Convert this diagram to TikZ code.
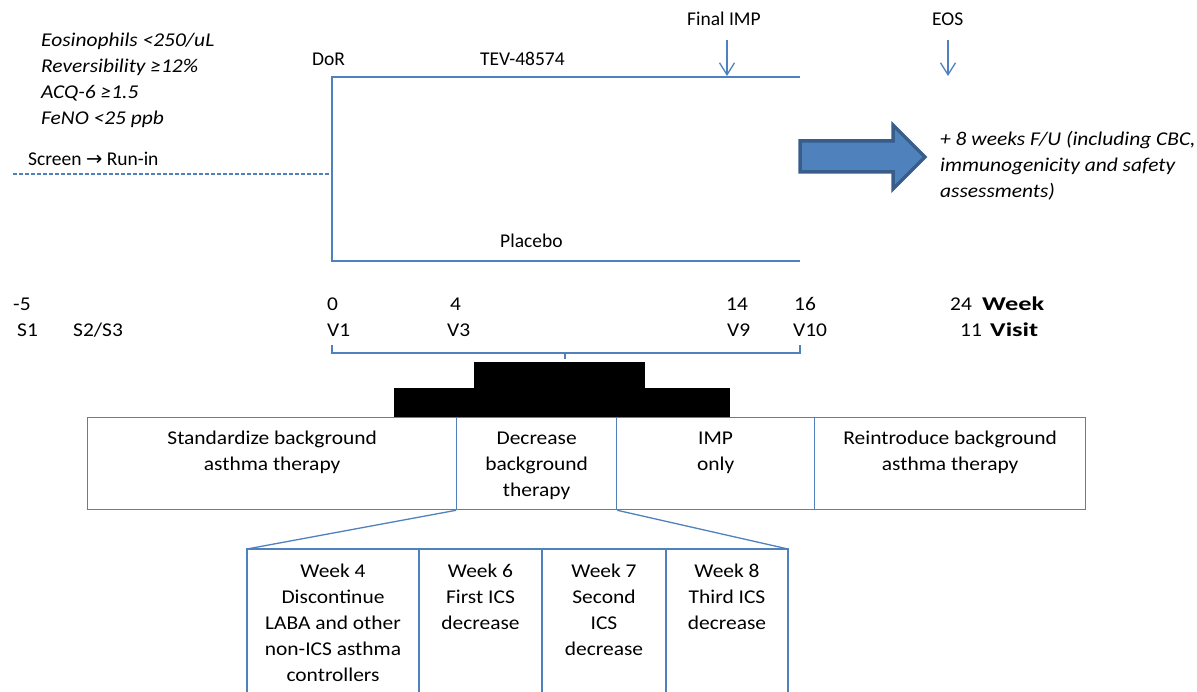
\documentclass[tikz,border=0pt]{standalone}
\usepackage{fontspec}
\setmainfont{Carlito}[FakeStretch=1.1]
\newfontfamily\plainfont{Carlito}
\newfontfamily\boldwide{Carlito}[FakeStretch=1.35]
\newfontfamily\symfont{DejaVu Sans}
\usetikzlibrary{arrows.meta}
\definecolor{lineblue}{HTML}{4F81BD}
\definecolor{arrowfill}{HTML}{4F81BD}
\definecolor{arrowedge}{HTML}{385D8A}
\begin{document}
\begin{tikzpicture}[x=1pt,y=-1pt,
  txt/.style={inner sep=0pt, font=\fontsize{19.5}{26}\selectfont},
  lbl/.style={inner sep=0pt, font=\fontsize{19.5}{26}\selectfont\plainfont},
  bld/.style={inner sep=0pt, font=\fontsize{19.5}{26}\selectfont\boldwide\bfseries},
  ml/.style={txt, align=center, anchor=north},
  ln/.style={draw=lineblue, line width=1.3pt},
  downarrow/.style={ln, -{Straight Barb[length=12pt,width=15pt,line width=1.3pt]}},
  bigarrow/.style={fill=arrowfill, draw=arrowedge, line width=3.5pt, line join=miter},
  rowbox/.style={ln, rectangle, inner sep=0pt, anchor=north west, minimum height=92pt},
  redact/.style={fill=black}
]
\useasboundingbox (0,0) rectangle (1197,692);

% criteria
\node[txt, anchor=base west] (crit1) at (41,47) {\itshape Eosinophils <250/uL};
\node[txt, anchor=base west] (crit2) at (41,73) {\itshape Reversibility ≥12\%};
\node[txt, anchor=base west] (crit3) at (41,99) {\itshape ACQ-6 ≥1.5};
\node[txt, anchor=base west] (crit4) at (41,125) {\itshape FeNO <25 ppb};
\node[lbl, anchor=base west] (screen) at (28,166) {Screen {\symfont →} Run-in};

% run-in dashed line and treatment bracket
\coordinate (runStart) at (13,174);
\coordinate (runEnd) at (332,174);
\draw[ln, dash pattern=on 4pt off 2pt] (runStart) -- (runEnd);
\coordinate (dorTop) at (332,77);
\coordinate (tevEnd) at (800,77);
\coordinate (dorBot) at (332,261);
\coordinate (plaEnd) at (800,261);
\draw[ln] (tevEnd) -- (dorTop) -- (dorBot) -- (plaEnd);

\node[lbl, anchor=base west] (dor) at (312,66) {DoR};
\node[lbl, anchor=base west] (tev) at (480,66) {TEV-48574};
\node[lbl, anchor=base west] (placebo) at (500,248) {Placebo};

% Final IMP and EOS markers
\node[lbl, anchor=base west] (fimp) at (687,26) {Final IMP};
\node[lbl, anchor=base west] (eos) at (932,26) {EOS};
\coordinate (fimpA) at (727,40);
\coordinate (fimpB) at (727,76);
\coordinate (eosA) at (948,40);
\coordinate (eosB) at (948,76);
\draw[downarrow] (fimpA) -- (fimpB);
\draw[downarrow] (eosA) -- (eosB);

% big block arrow
\draw[bigarrow] (800,141) -- (893,141) -- (893,125) -- (925,157) -- (893,189) -- (893,172) -- (800,172) -- cycle;
\node[txt, anchor=base west] (fu1) at (940,146) {\itshape + 8 weeks F/U (including CBC,};
\node[txt, anchor=base west] (fu2) at (940,172) {\itshape immunogenicity and safety};
\node[txt, anchor=base west] (fu3) at (940,198) {\itshape assessments)};

% timeline
\node[txt, anchor=base west] (wm5) at (13,311) {-5};
\node[txt, anchor=base west] (w0) at (327,311) {0};
\node[txt, anchor=base west] (w4) at (450,311) {4};
\node[txt, anchor=base west] (w14) at (726,311) {14};
\node[txt, anchor=base west] (w16) at (794,311) {16};
\node[txt, anchor=base west] (w24) at (950,311) {24};
\node[bld, anchor=base west] (week) at (982,311) {Week};
\node[txt, anchor=base west] (s1) at (17,337) {S1};
\node[txt, anchor=base west] (s23) at (73,337) {S2/S3};
\node[txt, anchor=base west] (v1) at (327,337) {V1};
\node[txt, anchor=base west] (v3) at (447,337) {V3};
\node[txt, anchor=base west] (v9) at (727,337) {V9};
\node[txt, anchor=base west] (v10) at (793,337) {V10};
\node[txt, anchor=base west] (v11) at (960,337) {11};
\node[bld, anchor=base west] (visit) at (990,337) {Visit};

% brace
\coordinate (brL) at (332,345);
\coordinate (brLb) at (332,353);
\coordinate (brRb) at (800,353);
\coordinate (brR) at (800,345);
\coordinate (brM) at (565,353);
\coordinate (brMt) at (565,359);
\draw[ln] (brL) -- (brLb) -- (brRb) -- (brR);
\draw[ln] (brM) -- (brMt);

% phase boxes
\node[rowbox, minimum width=369pt] (std) at (87,417) {};
\node[rowbox, minimum width=160pt] (dec) at (456,417) {};
\node[rowbox, minimum width=198pt] (imp) at (616,417) {};
\node[rowbox, minimum width=271pt] (rei) at (814,417) {};
\node[ml] (stdt) at ([yshift=-8.8pt]std.north) {\strut Standardize background\\asthma therapy};
\node[ml] (dect) at ([yshift=-8.8pt]dec.north) {\strut Decrease\\background\\therapy};
\node[ml] (impt) at ([yshift=-8.8pt]imp.north) {\strut IMP\\only};
\node[ml] (reit) at ([yshift=-8.8pt]rei.north) {\strut Reintroduce background\\asthma therapy};

% redaction blocks
\fill[redact] (474,362) rectangle (645,389);
\fill[redact] (394,388) rectangle (730,417);

% expansion of "Decrease background therapy"
\coordinate (c0t) at (247,549);
\coordinate (c1t) at (419,549);
\coordinate (c2t) at (542,549);
\coordinate (c3t) at (666,549);
\coordinate (c4t) at (788,549);
\coordinate (c0b) at (247,694);
\coordinate (c1b) at (419,694);
\coordinate (c2b) at (542,694);
\coordinate (c3b) at (666,694);
\coordinate (c4b) at (788,694);
\draw[ln] (dec.south west) -- (c0t);
\draw[ln] (dec.south east) -- (c4t);
\draw[ln] (c0b) -- (c0t) -- (c4t) -- (c4b);
\draw[ln] (c1t) -- (c1b);
\draw[ln] (c2t) -- (c2b);
\draw[ln] (c3t) -- (c3b);
\node[ml] (wk4) at (333,558.8) {\strut Week 4\\Discontinue\\LABA and other\\non-ICS asthma\\controllers};
\node[ml] (wk6) at (480.5,558.8) {\strut Week 6\\First ICS\\decrease};
\node[ml] (wk7) at (604,558.8) {\strut Week 7\\Second\\ICS\\decrease};
\node[ml] (wk8) at (727,558.8) {\strut Week 8\\Third ICS\\decrease};
\end{tikzpicture}
\end{document}
